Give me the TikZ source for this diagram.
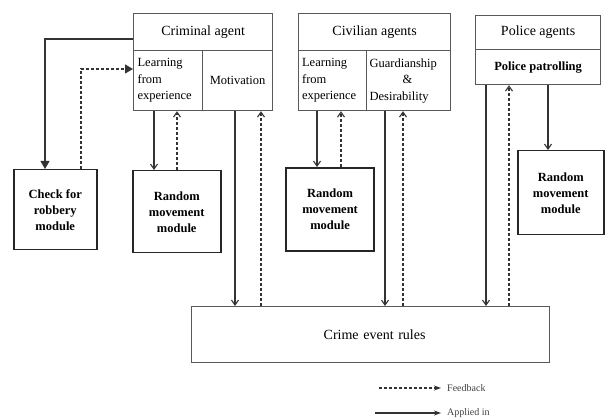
\documentclass[tikz,border=0pt]{standalone}
\usepackage{fontspec}
\setmainfont{Liberation Serif}
\usetikzlibrary{arrows.meta}
\begin{document}
\begin{tikzpicture}[x=1pt,y=-1pt,
  agentbox/.style={draw=black!65, line width=1.2pt, inner sep=0pt, anchor=north west, font=\fontsize{14}{16}\selectfont},
  subbox/.style={agentbox, font=\fontsize{12.5}{16.5}\selectfont},
  modbox/.style={draw=black!85, line width=1.5pt, inner sep=0pt, anchor=north west, align=center, font=\fontsize{12.5}{16}\selectfont\bfseries},
  applied/.style={draw=black!80, line width=1.1pt, -{Straight Barb[length=5pt,width=7pt]}},
  feedback/.style={draw=black!80, line width=1.1pt, dash pattern=on 3pt off 2pt, -{Straight Barb[length=5pt,width=7pt]}},
  bigtip/.style={-{Triangle[length=8pt,width=9pt]}},
  legtip/.style={-{Stealth[length=7pt,width=5pt]}},
  legtext/.style={anchor=west, inner sep=0pt, font=\fontsize{10}{12}\selectfont, text=black!75}]
\useasboundingbox (0,0) rectangle (605,419);
% Criminal agent
\node[agentbox, minimum width=139pt, minimum height=37pt] (ch) at (133,13) {Criminal agent};
\node[subbox, minimum width=69pt, minimum height=60pt, align=left, text width=61pt, inner xsep=4pt] (cl) at (133,50) {Learning\\from\\experience};
\node[subbox, minimum width=70pt, minimum height=60pt] (cm) at (202,50) {Motivation};
% Civilian agents
\node[agentbox, minimum width=152pt, minimum height=37pt] (vh) at (298,13) {Civilian agents};
\node[subbox, minimum width=68pt, minimum height=60pt, align=left, text width=61pt, inner xsep=3.5pt] (vl) at (298,50) {Learning\\from\\experience};
\node[subbox, minimum width=84pt, minimum height=60pt, align=left, text width=78pt, inner xsep=3pt] (vg) at (366,50) {Guardianship\\\hspace*{33pt}\&\\Desirability};
% Police agents
\node[agentbox, minimum width=125pt, minimum height=34pt] (ph) at (475,15) {Police agents};
\node[subbox, minimum width=125pt, minimum height=35pt, font=\fontsize{12.5}{15}\selectfont\bfseries] (pp) at (475,49) {Police patrolling};
% Modules
\node[modbox, minimum width=83pt, minimum height=80pt] (chk) at (13,169) {Check for\\robbery\\module};
\node[modbox, minimum width=88pt, minimum height=82pt] (rm1) at (132,170) {Random\\movement\\module};
\node[modbox, line width=2.2pt, minimum width=88pt, minimum height=83pt] (rm2) at (285,167) {Random\\movement\\module};
\node[modbox, minimum width=86pt, minimum height=84pt] (rm3) at (517,150) {Random\\movement\\module};
% Crime event rules
\node[agentbox, minimum width=358pt, minimum height=56pt, text width=358pt, align=center, inner xsep=0pt] (cr) at (191,306) {\hspace*{8pt}Crime event rules};
% Connectors
\draw[applied, bigtip] (ch.west |- 0,39) -| (45,0 |- chk.north);
\draw[feedback, bigtip] (81,0 |- chk.north) |- (cl.west |- 0,69);
\draw[applied] (154,0 |- cl.south) -- (154,0 |- rm1.north);
\draw[feedback] (177,0 |- rm1.north) -- (177,0 |- cl.south);
\draw[applied] (235,0 |- cm.south) -- (235,0 |- cr.north);
\draw[feedback] (261,0 |- cr.north) -- (261,0 |- cm.south);
\draw[applied] (317,0 |- vl.south) -- (317,0 |- rm2.north);
\draw[feedback] (341,0 |- rm2.north) -- (341,0 |- vl.south);
\draw[applied] (385,0 |- vg.south) -- (385,0 |- cr.north);
\draw[feedback] (403,0 |- cr.north) -- (403,0 |- vg.south);
\draw[applied] (486,0 |- pp.south) -- (486,0 |- cr.north);
\draw[feedback] (509,0 |- cr.north) -- (509,0 |- pp.south);
\draw[applied] (548,0 |- pp.south) -- (548,0 |- rm3.north);
% Legend
\coordinate (fbs) at (379,388);
\node[legtext] (fbl) at (447,388) {Feedback};
\draw[feedback, legtip] (fbs) -- ([xshift=-6pt]fbl.west);
\coordinate (aps) at (375,413);
\node[legtext] (apl) at (447,413) {Applied in};
\draw[applied, legtip] (aps) -- ([xshift=-6pt]apl.west);
\end{tikzpicture}
\end{document}
